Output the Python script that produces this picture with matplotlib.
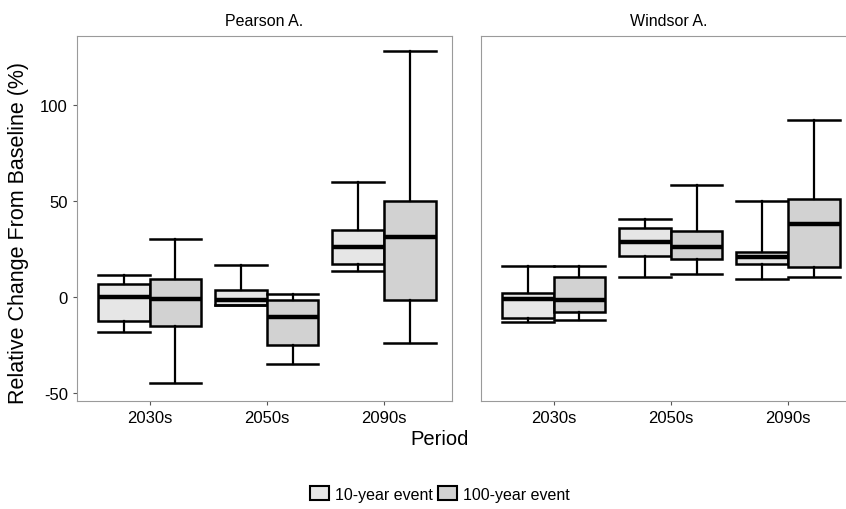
import matplotlib.pyplot as plt
from matplotlib.patches import Patch

plt.rcParams['font.family'] = ['Liberation Sans', 'DejaVu Sans']
plt.rcParams['axes.unicode_minus'] = False

# data (whislo, q1, median, q3, whishi)
periods = ["2030s", "2050s", "2090s"]
stations = ["Pearson A.", "Windsor A."]
events = ["10-year event", "100-year event"]

pearson_10 = [[-18, -12.4, 0.2, 7.1, 11.4],
              [-4.1, -4.1, -1.5, 4.0, 17],
              [13.5, 17.1, 26.1, 34.8, 60]]
pearson_100 = [[-44.4, -15, -0.7, 9.7, 30.1],
               [-34.7, -24.9, -10.5, -1.2, 1.6],
               [-24, -1.6, 31.3, 50, 128]]
windsor_10 = [[-13.1, -10.7, -1, 2.3, 16.3],
              [10.6, 21.3, 28.7, 36, 40.8],
              [9.7, 17.5, 21, 23.6, 50.3]]
windsor_100 = [[-11.6, -7.9, -1.5, 10.6, 16.3],
               [12.3, 20.1, 26.1, 34.3, 58.5],
               [10.6, 15.8, 37.9, 51.2, 92.4]]

fills = ["#e6e6e6", "#d2d2d2"]

fig = plt.figure(figsize=(8.46, 5.10), dpi=100)
W, H = 846.0, 510.0
ax1 = fig.add_axes([77 / W, 108 / H, 375 / W, 365 / H])
ax2 = fig.add_axes([481 / W, 108 / H, 375 / W, 365 / H], sharey=ax1)
axes = [ax1, ax2]

def make_stats(rows):
    return [dict(whislo=r[0], q1=r[1], med=r[2], q3=r[3], whishi=r[4], fliers=[]) for r in rows]

panel_data = [(pearson_10, pearson_100), (windsor_10, windsor_100)]
w = 0.44
for ax, name, (d10, d100) in zip(axes, stations, panel_data):
    for k, (d, off) in enumerate([(d10, -w / 2), (d100, w / 2)]):
        pos = [i + 1 + off for i in range(len(periods))]
        ax.bxp(make_stats(d), positions=pos, widths=w, patch_artist=True,
               boxprops=dict(facecolor=fills[k], edgecolor="black", linewidth=1.8),
               medianprops=dict(color="black", linewidth=3.2),
               whiskerprops=dict(color="black", linewidth=1.6),
               capprops=dict(color="black", linewidth=1.8),
               capwidths=w, manage_ticks=False)
    ax.set_xlim(0.38, 3.58)
    ax.set_xticks([1, 2, 3])
    ax.set_xticklabels(periods, fontsize=12)
    ax.set_title(name, fontsize=11.5, pad=8)
    for s in ax.spines.values():
        s.set_color("#9a9a9a")
        s.set_linewidth(0.8)
    ax.tick_params(axis="both", length=3, color="#555555", labelsize=12)

ax2.spines["right"].set_visible(False)
ax1.set_ylim(-54, 136)
ax1.set_yticks([-50, 0, 50, 100])
ax1.set_ylabel("Relative Change From Baseline (%)", fontsize=15.5)
ax1.yaxis.set_label_coords(-0.128, 0.463)
ax2.tick_params(axis="y", left=False, labelleft=False)
fig.text(0.52, 0.128, "Period", ha="center", fontsize=14.5)

handles = [Patch(facecolor=fills[i], edgecolor="black", linewidth=1.5, label=events[i]) for i in range(2)]
fig.legend(handles=handles, loc="center", bbox_to_anchor=(0.52, 0.03), ncol=2, frameon=False,
           fontsize=11.5, handlelength=1.2, handleheight=1.0, handletextpad=0.4, columnspacing=0.3)

plt.savefig("out.png", dpi=100)
